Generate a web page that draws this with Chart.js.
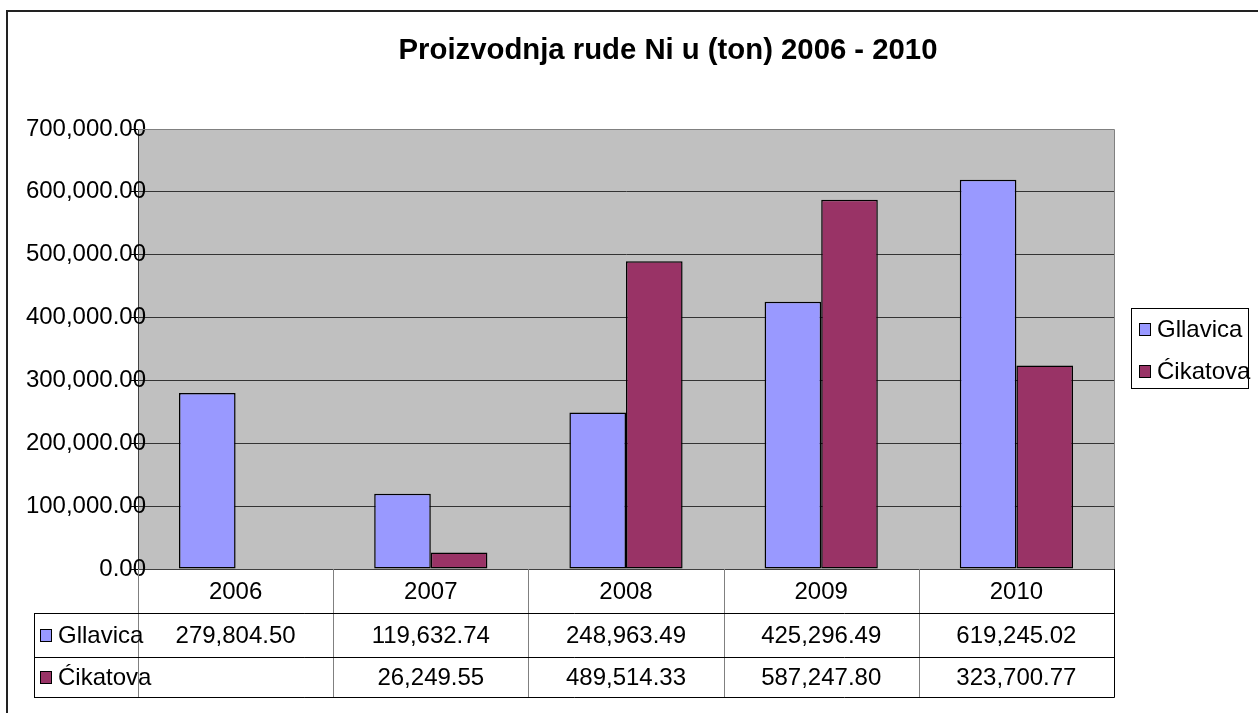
<!DOCTYPE html>
<html>
<head>
<meta charset="utf-8">
<script src="https://cdn.jsdelivr.net/npm/chart.js@4"></script>
<style>
html,body{margin:0;padding:0;background:#fff;}
canvas{display:block;}
</style>
</head>
<body>
<canvas id="c" width="1258" height="713"></canvas>
<script>
const titleText = "Proizvodnja rude Ni u (ton) 2006 - 2010";
const categories = ["2006", "2007", "2008", "2009", "2010"];
const seriesNames = ["Gllavica", "Ćikatova"];
const gllavica = [279804.50, 119632.74, 248963.49, 425296.49, 619245.02];
const cikatova = [null, 26249.55, 489514.33, 587247.80, 323700.77];
const seriesColors = ["#9999FF", "#993366"];
const yMin = 0, yMax = 700000, yStep = 100000;

const FONT = '"Liberation Sans", Arial, sans-serif';
const fmt = v => (v === null || v === undefined) ? "" :
  v.toLocaleString("en-US", {minimumFractionDigits: 2, maximumFractionDigits: 2});

const mctx = document.createElement("canvas").getContext("2d");
mctx.font = "24px " + FONT;
const widestY = mctx.measureText(fmt(yMax)).width;

const frame = {
  id: "frame",
  beforeDraw(chart) {
    const ctx = chart.ctx, a = chart.chartArea;
    ctx.save();
    ctx.fillStyle = "#fff";
    ctx.fillRect(0, 0, chart.width, chart.height);
    ctx.fillStyle = "#C0C0C0";
    ctx.fillRect(a.left, a.top, a.right - a.left, a.bottom - a.top);
    ctx.strokeStyle = "#222";
    ctx.lineWidth = 2;
    ctx.strokeRect(7, 11, chart.width + 10, chart.height + 10);
    ctx.fillStyle = "#000";
    ctx.font = "bold 29.3px " + FONT;
    ctx.textAlign = "center";
    ctx.textBaseline = "middle";
    ctx.fillText(titleText, 668, 51);
    ctx.restore();
  },
  beforeDatasetsDraw(chart) {
    const ctx = chart.ctx, a = chart.chartArea;
    ctx.save();
    ctx.strokeStyle = "#808080";
    ctx.lineWidth = 1;
    ctx.beginPath();
    ctx.moveTo(a.left, a.top + 0.5);
    ctx.lineTo(a.right + 0.5, a.top + 0.5);
    ctx.lineTo(a.right + 0.5, a.bottom);
    ctx.stroke();
    ctx.restore();
  },
  afterDraw(chart) {
    const ctx = chart.ctx, a = chart.chartArea, xs = chart.scales.x;
    const n = categories.length;
    const bounds = [a.left];
    for (let i = 0; i < n - 1; i++) {
      bounds.push((xs.getPixelForValue(i) + xs.getPixelForValue(i + 1)) / 2);
    }
    bounds.push(a.right);
    const r0 = a.bottom, r1 = r0 + 44, r2 = r1 + 44, r3 = r2 + 40;
    const tLeft = 34;
    ctx.save();
    ctx.lineWidth = 1;
    ctx.strokeStyle = "#808080";
    ctx.beginPath();
    for (let i = 0; i < bounds.length - 1; i++) {
      const x = Math.round(bounds[i]) + 0.5;
      ctx.moveTo(x, r0); ctx.lineTo(x, r3);
    }
    ctx.stroke();
    ctx.strokeStyle = "#000";
    ctx.beginPath();
    const xr = Math.round(a.right) + 0.5;
    ctx.moveTo(xr, r0); ctx.lineTo(xr, r3 + 0.5);
    ctx.moveTo(tLeft + 0.5, r1 + 0.5); ctx.lineTo(tLeft + 0.5, r3 + 0.5);
    [r1, r2, r3].forEach(y => { ctx.moveTo(tLeft, y + 0.5); ctx.lineTo(xr, y + 0.5); });
    ctx.stroke();
    ctx.fillStyle = "#000";
    ctx.font = "24px " + FONT;
    ctx.textAlign = "center";
    ctx.textBaseline = "middle";
    const rows = [gllavica, cikatova];
    for (let i = 0; i < n; i++) {
      const cx = (bounds[i] + bounds[i + 1]) / 2;
      ctx.fillText(categories[i], cx, (r0 + r1) / 2 + 1);
      ctx.fillText(fmt(rows[0][i]), cx, (r1 + r2) / 2 + 1);
      ctx.fillText(fmt(rows[1][i]), cx, (r2 + r3) / 2 + 1);
    }
    const rowMid = [(r1 + r2) / 2, (r2 + r3) / 2];
    ctx.textAlign = "left";
    for (let s = 0; s < 2; s++) {
      const y = rowMid[s];
      ctx.fillStyle = seriesColors[s];
      ctx.fillRect(41, Math.round(y) - 5, 10, 11);
      ctx.strokeStyle = "#000";
      ctx.strokeRect(40.5, Math.round(y) - 5.5, 11, 12);
      ctx.fillStyle = "#000";
      ctx.fillText(seriesNames[s], 58, y + 1);
    }
    ctx.strokeStyle = "#000";
    ctx.strokeRect(1131.5, 308.5, 117, 80);
    const ly = [329, 371];
    for (let s = 0; s < 2; s++) {
      ctx.fillStyle = seriesColors[s];
      ctx.fillRect(1140, ly[s] - 5, 10, 11);
      ctx.strokeStyle = "#000";
      ctx.strokeRect(1139.5, ly[s] - 5.5, 11, 12);
      ctx.fillStyle = "#000";
      ctx.fillText(seriesNames[s], 1157, ly[s] + 1);
    }
    ctx.restore();
  }
};

new Chart(document.getElementById("c"), {
  type: "bar",
  data: {
    labels: categories,
    datasets: [
      {label: seriesNames[0], data: gllavica, backgroundColor: seriesColors[0], borderColor: "#000", borderWidth: 1.5, borderSkipped: false},
      {label: seriesNames[1], data: cikatova, backgroundColor: seriesColors[1], borderColor: "#000", borderWidth: 1.5, borderSkipped: false}
    ]
  },
  options: {
    responsive: false,
    animation: false,
    devicePixelRatio: 1,
    layout: {padding: {left: 38, top: 129, right: 144, bottom: 16}},
    plugins: {legend: {display: false}, title: {display: false}, tooltip: {enabled: false}},
    datasets: {bar: {barPercentage: 1, categoryPercentage: 0.58}},
    scales: {
      x: {
        ticks: {display: false},
        grid: {display: false},
        border: {display: true, color: "#404040"},
        afterFit(scale) { scale.height = 128; }
      },
      y: {
        min: yMin, max: yMax,
        ticks: {stepSize: yStep, mirror: true, crossAlign: "far", padding: 8 - widestY,
          color: "#000", font: {family: FONT, size: 24}, callback: v => fmt(v)},
        grid: {color: ctx => ctx.tick && ctx.tick.value === yMax ? "#808080" : "#333333",
          lineWidth: 1, drawTicks: true, tickLength: 8, tickColor: "#000"},
        border: {display: true, color: "#404040"},
        afterFit(scale) { scale.width = 100; }
      }
    }
  },
  plugins: [frame]
});
</script>
</body>
</html>
